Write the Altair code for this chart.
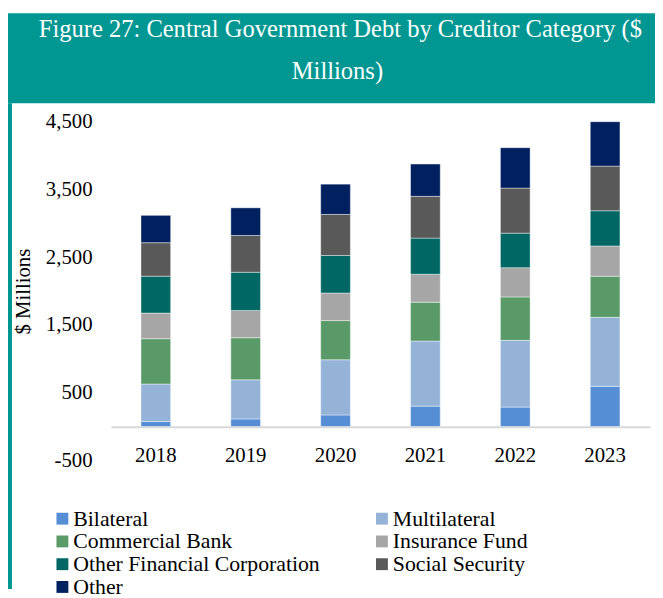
import altair as alt
import pandas as pd

years = ["2018", "2019", "2020", "2021", "2022", "2023"]
categories = ["Bilateral", "Multilateral", "Commercial Bank", "Insurance Fund",
              "Other Financial Corporation", "Social Security", "Other"]
bilateral = [73, 112, 170, 301, 287, 593]
multilateral = [554, 578, 816, 962, 986, 1020]
commercial_bank = [670, 622, 579, 574, 641, 608]
insurance_fund = [379, 403, 408, 413, 433, 447]
other_financial = [545, 564, 554, 534, 510, 520]
social_security = [495, 544, 607, 617, 666, 660]
other = [404, 408, 447, 477, 597, 656]
colors = ["#558ED5", "#95B3D7", "#5A9A68", "#A6A6A6", "#006764", "#595959", "#002060"]
y_ticks = [-500, 500, 1500, 2500, 3500, 4500]
title_lines = ["Figure 27: Central Government Debt by Creditor Category ($", "Millions)"]

series = [bilateral, multilateral, commercial_bank, insurance_fund,
          other_financial, social_security, other]
rows = []
for ci, (cat, vals) in enumerate(zip(categories, series)):
    for y, v in zip(years, vals):
        rows.append({"Year": y, "Category": cat, "Value": v, "Order": ci})
df = pd.DataFrame(rows)
one = pd.DataFrame({"k": [0]})

FONT = "Liberation Serif"
TEAL = "#009792"

header = alt.Chart(one).mark_rect(color=TEAL).encode(
    x=alt.value(-104), x2=alt.value(550), y=alt.value(-110), y2=alt.value(-19))
border = alt.Chart(one).mark_rect(color=TEAL).encode(
    x=alt.value(-104), x2=alt.value(-100), y=alt.value(-19), y2=alt.value(472))
t1 = alt.Chart(one).mark_text(font=FONT, fontSize=24.8, color="white", align="center",
                              baseline="alphabetic").encode(
    x=alt.value(232), y=alt.value(-86), text=alt.value(title_lines[0]))
t2 = alt.Chart(one).mark_text(font=FONT, fontSize=24.8, color="white", align="center",
                              baseline="alphabetic").encode(
    x=alt.value(229), y=alt.value(-43), text=alt.value(title_lines[1]))

bars = alt.Chart(df).mark_bar(size=30, stroke="white", strokeWidth=0.6, strokeOpacity=0.7).encode(
    x=alt.X("Year:N", sort=years, title=None,
            axis=alt.Axis(labelAngle=0, offset=-34, domainColor="#d9d9d9", domainWidth=2,
                          ticks=False, labelPadding=18, labelFont=FONT, labelFontSize=21,
                          labelColor="black")),
    y=alt.Y("Value:Q", stack="zero", title="$ Millions",
            scale=alt.Scale(domain=[-500, 4500], nice=False, zero=False),
            axis=alt.Axis(values=y_ticks, grid=False, domain=False, ticks=False,
                          labelExpr="datum.value < 0 ? '-' + format(-datum.value, ',') : format(datum.value, ',')",
                          labelPadding=19, labelFont=FONT, labelFontSize=21, labelColor="black",
                          titleFont=FONT, titleFontSize=21, titleFontWeight="normal",
                          titleColor="black", titlePadding=12)),
    color=alt.Color("Category:N", scale=alt.Scale(domain=categories, range=colors),
                    legend=alt.Legend(title=None, orient="none", legendX=-60, legendY=390,
                                      direction="horizontal", columns=2, columnPadding=51,
                                      rowPadding=1, symbolType="square", symbolSize=144,
                                      symbolStrokeWidth=0, labelFont=FONT, labelFontSize=22,
                                      labelColor="black", labelOffset=0, labelLimit=400)),
    order=alt.Order("Order:Q", sort="ascending"),
)

chart = alt.layer(header, border, bars, t1, t2).properties(
    width=545, height=342,
    padding={"left": 0, "top": 2, "right": 0, "bottom": 0},
    background="white",
).configure_view(stroke=None)

chart.save("out.html", embed_options={"renderer": "svg", "actions": False})
